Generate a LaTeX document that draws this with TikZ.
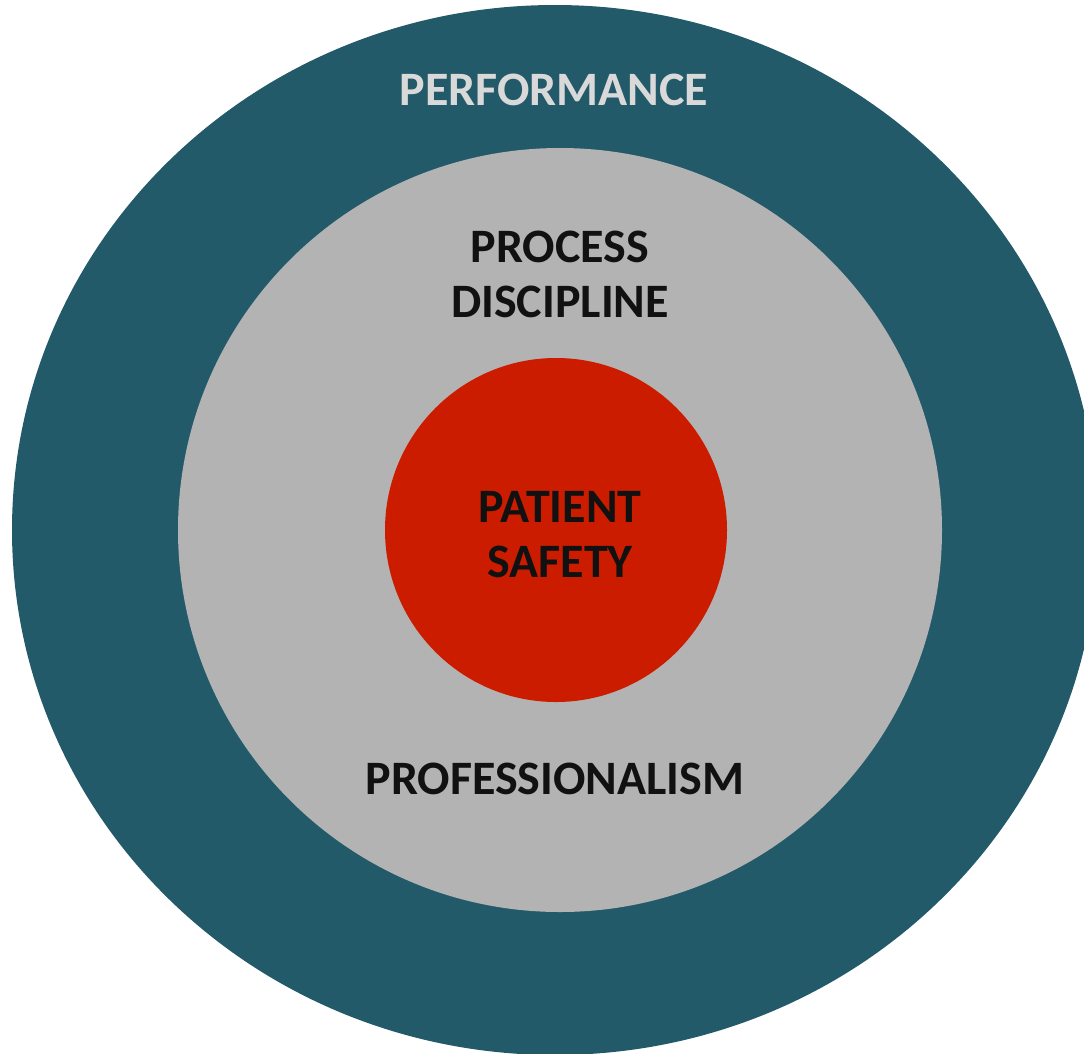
\documentclass[tikz,border=0pt]{standalone}
\usepackage{fontspec}
\setmainfont{Carlito}
\usepackage{xcolor}
\usepackage{tikz}
\usetikzlibrary{shapes, positioning, backgrounds}

\definecolor{ringteal}{HTML}{225A69}
\definecolor{ringgrey}{HTML}{B3B3B3}
\definecolor{corered}{HTML}{CC1C00}
\definecolor{lighttext}{HTML}{D9D9D9}
\definecolor{darktext}{HTML}{111111}

\begin{document}
\begin{tikzpicture}[x=1pt, y=-1pt,
        label/.style={font=\bfseries\fontsize{48}{55}\selectfont, align=center, inner sep=0pt},
        ring/.style={ellipse, inner sep=0pt, draw=none}]
        \useasboundingbox (0,0) rectangle (1084,1053);
        \clip (0,0) rectangle (1084,1053);
        % the three rings, outside in
        \node[ring, fill=ringteal, minimum width=1086pt, minimum height=1050pt] (outer) at (555,530) {};
        \node[ring, fill=ringgrey, minimum width=764pt, minimum height=764pt]   (middle) at (560,530) {};
        \node[ring, fill=corered, minimum width=342pt, minimum height=344pt]    (core) at (556,530) {};
        % labels (base is the last line's baseline)
        \node[label, text=lighttext, anchor=base] (perf) at (554,105) {PERFORMANCE};
        \node[label, text=darktext, anchor=base]  (proc) at (560,317) {PROCESS\\DISCIPLINE};
        \node[label, text=darktext, anchor=base]  (safe) at (560,577) {PATIENT\\SAFETY};
        \node[label, text=darktext, anchor=base]  (prof) at (555,794) {PROFESSIONALISM};
      \end{tikzpicture}
\end{document}
